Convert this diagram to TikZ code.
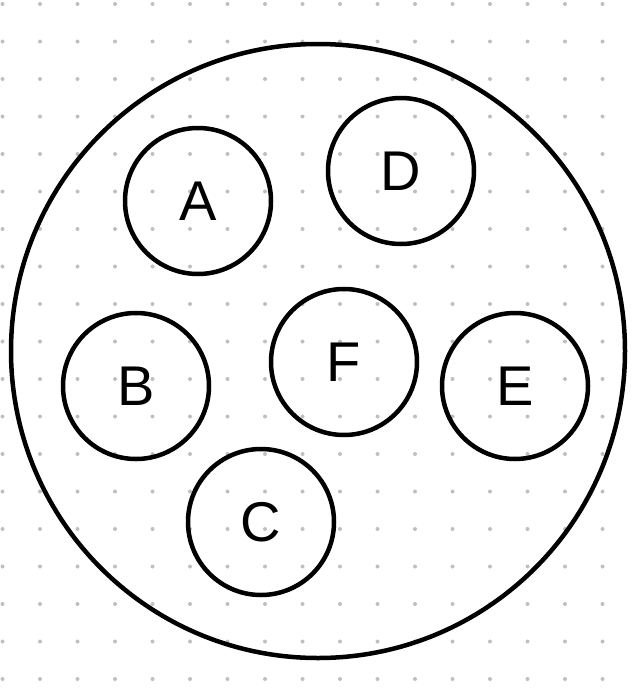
\documentclass[tikz,border=0pt]{standalone}
\usepackage{fontspec}
\setmainfont{Liberation Sans}
\usepackage{tikz}
\usetikzlibrary{positioning}

\begin{document}
\begin{tikzpicture}[
    x=1pt, y=-1pt,
    griddot/.style={fill=black!25, draw=none, circle, inner sep=0pt, minimum size=4pt},
    set/.style={draw, circle, line width=4.5pt, minimum size=614pt, inner sep=0pt},
    elem/.style={draw, circle, line width=4.5pt, minimum size=146pt, inner sep=0pt, font=\fontsize{56}{56}\selectfont},
]
\useasboundingbox (0,0) rectangle (636,688);
% dotted background
\foreach \i in {0,...,16}
  \foreach \j in {0,...,18}
    \node[griddot] at (2.5+37.5*\i, 4+37.5*\j) {};

\node[set] (universe) at (318,351) {};

\node[elem] (a) at (198,201) {A};
\node[elem] (d) at (401,171) {D};
\node[elem] (b) at (136,386) {B};
\node[elem] (f) at (344,362) {F};
\node[elem] (e) at (515,386) {E};
\node[elem] (c) at (261,522) {C};
\end{tikzpicture}
\end{document}
